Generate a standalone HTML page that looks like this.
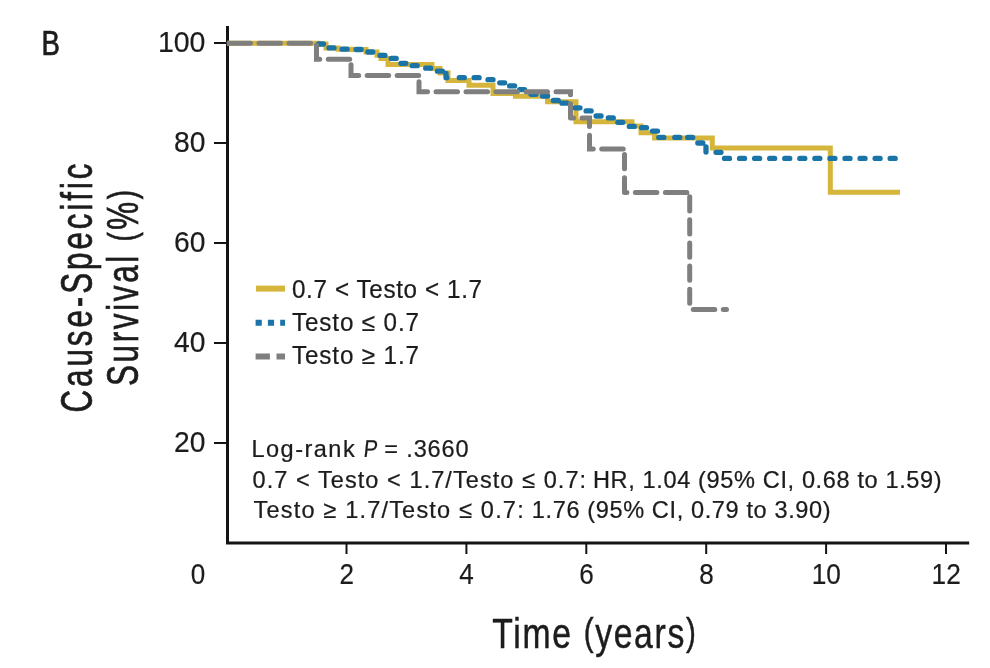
<!DOCTYPE html>
<html><head><meta charset="utf-8"><style>
html,body{margin:0;padding:0;background:#fff;}
svg{display:block;will-change:transform;}
text{font-family:"Liberation Sans", sans-serif;fill:#1c1c1c;}
</style></head><body>
<svg width="990" height="668" viewBox="0 0 990 668">
<rect width="990" height="668" fill="#fff"/>
<!-- panel letter -->
<text x="41.6" y="54.8" font-size="34.3" textLength="18.4" lengthAdjust="spacingAndGlyphs" stroke="#1c1c1c" stroke-width="0.7">B</text>
<!-- axes -->
<path d="M227.5,27.5 V543 H967.7" fill="none" stroke="#141414" stroke-width="3" stroke-linecap="square"/>
<g stroke="#141414" stroke-width="2">
<line x1="214" y1="43" x2="227" y2="43"/>
<line x1="214" y1="143" x2="227" y2="143"/>
<line x1="214" y1="243" x2="227" y2="243"/>
<line x1="214" y1="343" x2="227" y2="343"/>
<line x1="214" y1="443" x2="227" y2="443"/>
<line x1="346.5" y1="543" x2="346.5" y2="554"/>
<line x1="466.4" y1="543" x2="466.4" y2="554"/>
<line x1="586.3" y1="543" x2="586.3" y2="554"/>
<line x1="706.2" y1="543" x2="706.2" y2="554"/>
<line x1="826.1" y1="543" x2="826.1" y2="554"/>
<line x1="946" y1="543" x2="946" y2="554"/>
</g>
<!-- y tick labels -->
<g font-size="29.6" text-anchor="end" stroke="#1c1c1c" stroke-width="0.2">
<text x="205.5" y="52.3" textLength="47.6" lengthAdjust="spacingAndGlyphs">100</text>
<text x="205.5" y="152.3" textLength="31.4" lengthAdjust="spacingAndGlyphs">80</text>
<text x="205.5" y="252.3" textLength="31.4" lengthAdjust="spacingAndGlyphs">60</text>
<text x="205.5" y="352.3" textLength="31.4" lengthAdjust="spacingAndGlyphs">40</text>
<text x="205.5" y="452.3" textLength="31.4" lengthAdjust="spacingAndGlyphs">20</text>
</g>
<g font-size="29.6" text-anchor="middle" stroke="#1c1c1c" stroke-width="0.2">
<text x="198" y="583.8" textLength="14.5" lengthAdjust="spacingAndGlyphs">0</text>
<text x="346.7" y="583.8" textLength="14.5" lengthAdjust="spacingAndGlyphs">2</text>
<text x="466.6" y="583.8" textLength="14.5" lengthAdjust="spacingAndGlyphs">4</text>
<text x="586.5" y="583.8" textLength="14.5" lengthAdjust="spacingAndGlyphs">6</text>
<text x="706.4" y="583.8" textLength="14.5" lengthAdjust="spacingAndGlyphs">8</text>
<text x="826.3" y="583.8" textLength="29.2" lengthAdjust="spacingAndGlyphs">10</text>
<text x="946.2" y="583.8" textLength="29.2" lengthAdjust="spacingAndGlyphs">12</text>
</g>
<!-- axis titles -->
<g transform="translate(92.0,412.5) rotate(-90) scale(0.72,1)"><text x="0" y="0" font-size="43.6" stroke="#1c1c1c" stroke-width="0.7" textLength="345.83" lengthAdjust="spacing">Cause-Specific</text></g>
<g transform="translate(137.9,386) rotate(-90) scale(0.72,1)"><text x="0" y="0" font-size="43.6" stroke="#1c1c1c" stroke-width="0.7" textLength="272.22" lengthAdjust="spacing">Survival <tspan font-size="38.3" dy="-3.3">(</tspan><tspan dy="3.3">%</tspan><tspan font-size="38.3" dy="-3.3">)</tspan></text></g>
<g transform="translate(492.3,647.8) scale(0.78,1)"><text x="0" y="0" font-size="43.2" stroke="#1c1c1c" stroke-width="0.5" textLength="260.90" lengthAdjust="spacing">Time <tspan font-size="37.9" dy="-2.6">(</tspan><tspan dy="2.6">years</tspan><tspan font-size="37.9" dy="-2.6">)</tspan></text></g>
<!-- curves -->
<path d="M227,43.3 H318 V44 H326 V47.9 H338 V49.2 H352 V49.5 H366 V52 H377 V55.2 H381 V58.5 H388 V64.5 H432 V68.5 H440 V73 H448 V80.5 H469 V85.2 H493 V93.5 H515.5 V96.3 H547.5 V101.8 H576 V121.7 H632 V126 H641 V132.7 H654.6 V138 H712.3 V148 H830.3 V192.3 H900" fill="none" stroke="#d5b53b" stroke-width="5"/>
<path d="M318.50,44.00 L323.50,44.00 M329.00,47.90 L334.00,47.90 M342.10,49.20 L347.10,49.20 M356.10,49.50 L361.10,49.50 M367.80,52.00 L372.80,52.00 M380.00,55.40 L385.00,55.40 M391.20,58.40 L396.20,58.40 M400.90,63.30 L405.90,63.30 M412.20,65.70 L417.20,65.70 M425.70,68.20 L430.70,68.20 M437.40,71.20 L442.40,71.20 M446.00,73.50 L446.00,77.70 L446.80,77.70 M459.30,77.70 L464.30,77.70 M474.10,77.70 L479.10,77.70 M488.00,79.70 L493.00,79.70 M499.70,82.80 L504.70,82.80 M509.60,85.90 L514.60,85.90 M519.60,89.60 L524.60,89.60 M531.00,94.30 L536.00,94.30 M542.60,96.00 L547.60,96.00 M553.30,100.50 L558.30,100.50 M562.00,103.20 L567.00,103.20 M575.00,107.80 L580.00,107.80 M586.10,110.90 L591.10,110.90 M596.10,116.00 L601.10,116.00 M608.30,117.90 L613.30,117.90 M617.80,122.30 L622.80,122.30 M629.30,126.40 L634.30,126.40 M641.50,127.70 L646.50,127.70 M652.50,131.10 L657.50,131.10 M658.80,137.40 L663.80,137.40 M674.80,137.40 L679.80,137.40 M687.70,137.40 L692.70,137.40 M697.80,143.00 L702.80,143.00 M706.00,147.00 L706.00,152.00 M716.00,152.30 L721.00,152.30 M724.50,158.40 L729.50,158.40 M739.56,158.40 L744.56,158.40 M754.62,158.40 L759.62,158.40 M769.68,158.40 L774.68,158.40 M784.74,158.40 L789.74,158.40 M799.80,158.40 L804.80,158.40 M814.86,158.40 L819.86,158.40 M829.92,158.40 L834.92,158.40 M844.98,158.40 L849.98,158.40 M860.04,158.40 L865.04,158.40 M875.10,158.40 L880.10,158.40 M890.16,158.40 L895.16,158.40" fill="none" stroke="#1b74a8" stroke-width="5.3" stroke-linecap="round" stroke-linejoin="round"/>
<path d="M229.00,43.30 L250.50,43.30 M259.00,43.30 L280.50,43.30 M289.00,43.30 L310.50,43.30 M316.50,45.22 L316.50,59.30 L319.72,59.30 M328.22,59.30 L349.72,59.30 M351.00,64.86 L351.00,75.50 L358.68,75.50 M367.18,75.50 L388.68,75.50 M397.18,75.50 L418.68,75.50 M419.00,81.80 L419.00,91.80 L427.51,91.80 M436.01,91.80 L457.51,91.80 M466.01,91.80 L487.51,91.80 M496.01,91.80 L517.51,91.80 M526.01,91.80 L547.51,91.80 M556.01,91.80 L570.50,91.80 L570.50,94.84 M570.50,103.75 L570.50,117.95 M570.50,118.00 L573.49,118.00 M581.99,118.00 L589.50,118.00 L589.50,126.42 M589.50,135.31 L589.50,149.00 L593.23,149.00 M601.73,149.00 L623.23,149.00 M624.50,154.56 L624.50,168.77 M624.50,177.67 L624.50,191.87 M624.50,192.40 L626.86,192.40 M635.36,192.40 L656.86,192.40 M665.36,192.40 L686.86,192.40 M689.70,196.76 L689.70,210.96 M689.70,219.86 L689.70,234.06 M689.70,242.96 L689.70,257.16 M689.70,266.06 L689.70,280.26 M689.70,289.16 L689.70,303.36 M693.29,309.50 L714.79,309.50 M723.29,309.50 L726.50,309.50" fill="none" stroke="#7f7f7f" stroke-width="5" stroke-linecap="round" stroke-linejoin="miter"/>
<!-- legend -->
<line x1="256" y1="288.6" x2="285" y2="288.6" stroke="#d5b53b" stroke-width="6"/>
<line x1="255.6" y1="322.8" x2="285" y2="322.8" stroke="#1b74a8" stroke-width="6" stroke-dasharray="6.2 6.1"/>
<line x1="255.6" y1="356.4" x2="285" y2="356.4" stroke="#7f7f7f" stroke-width="6" stroke-dasharray="14.3 6.6"/>
<g font-size="25" stroke="#1c1c1c" stroke-width="0.25">
<g transform="translate(292,297.9) scale(0.97,1)"><text x="0" y="0" textLength="195.88" lengthAdjust="spacing">0.7 &lt; Testo &lt; 1.7</text></g>
<g transform="translate(292,330.6) scale(0.97,1)"><text x="0" y="0" textLength="130.93" lengthAdjust="spacing">Testo ≤ 0.7</text></g>
<g transform="translate(292,364.0) scale(0.97,1)"><text x="0" y="0" textLength="130.93" lengthAdjust="spacing">Testo ≥ 1.7</text></g>
</g>
<!-- annotation -->
<g font-size="24.3" stroke="#1c1c1c" stroke-width="0.25">
<g transform="translate(251.5,457.3) scale(0.97,1)"><text x="0" y="0" textLength="106.42" lengthAdjust="spacing">Log-rank</text></g>
<g transform="translate(363.0,457.3) skewX(-6) scale(0.86,1)"><text x="0" y="0">P</text></g>
<g transform="translate(384.3,457.3) scale(0.97,1)"><text x="0" y="0" textLength="86.86" lengthAdjust="spacing">= .3660</text></g>
<g transform="translate(252.5,487.6) scale(0.97,1)"><text x="0" y="0" textLength="343.93" lengthAdjust="spacing">0.7 &lt; Testo &lt; 1.7/Testo ≤ 0.7:</text></g>
<g transform="translate(593.0,487.6) scale(0.97,1)"><text x="0" y="0" textLength="359.43" lengthAdjust="spacing">HR, 1.04 (95% CI, 0.68 to 1.59)</text></g>
<g transform="translate(253.5,517.5) scale(0.97,1)"><text x="0" y="0" textLength="278.55" lengthAdjust="spacing">Testo ≥ 1.7/Testo ≤ 0.7:</text></g>
<g transform="translate(531.8,517.5) scale(0.97,1)"><text x="0" y="0" textLength="308.09" lengthAdjust="spacing">1.76 (95% CI, 0.79 to 3.90)</text></g>
</g>
</svg>
</body></html>
